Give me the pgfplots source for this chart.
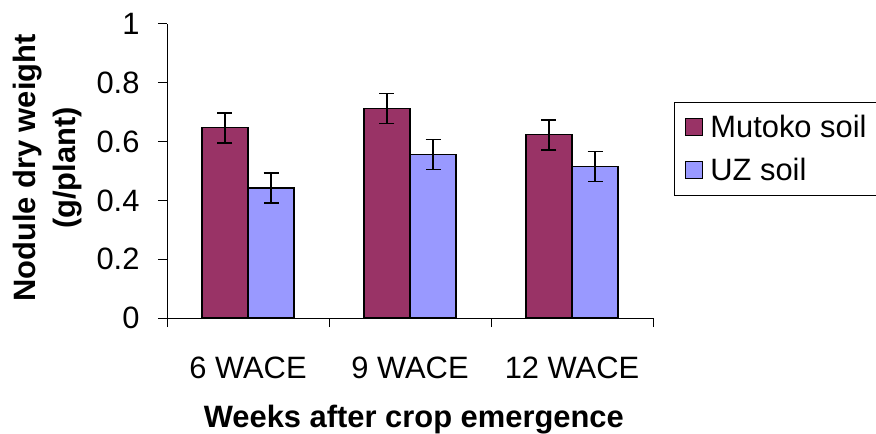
\documentclass[border=0pt]{standalone}
\usepackage{fontspec}
\setmainfont{Liberation Sans}
\usepackage{pgfplots}
\pgfplotsset{compat=1.18}
\definecolor{mutoko}{HTML}{993366}
\definecolor{uz}{HTML}{9999FF}
\begin{document}
\begin{tikzpicture}
\useasboundingbox (0,0) rectangle (876bp,434bp);
\begin{axis}[
  at={(167bp,116bp)}, anchor=south west,
  scale only axis, width=486bp, height=294bp,
  xmin=-0.5, xmax=2.5, ymin=0, ymax=1,
  axis x line*=bottom, axis y line*=left,
  axis line style={-, line width=1bp, black},
  ytick={0,0.2,0.4,0.6,0.8,1},
  yticklabels={0,0.2,0.4,0.6,0.8,1},
  xtick={-0.5,0.5,1.5,2.5}, xticklabels={},
  extra x ticks={0,1,2},
  extra x tick labels={6 WACE,9 WACE,12 WACE},
  extra x tick style={major tick length=0pt},
  tick align=outside, major tick length=9bp,
  tick style={black, line width=1bp},
  /pgf/number format/assume math mode=true,
  ticklabel style={font=\fontsize{31}{36}\selectfont},
  yticklabel style={xshift=-15bp},
  xticklabel style={yshift=-35bp},
  ylabel={Nodule dry weight\\(g/plant)},
  ylabel style={font=\bfseries\fontsize{31}{40}\selectfont, align=center,
    at={(rel axis cs:-0.245,0.51)}, anchor=center},
  xlabel={Weeks after crop emergence},
  xlabel style={font=\bfseries\fontsize{31}{38}\selectfont,
    at={(rel axis cs:0.508,-0.372)}, anchor=base},
  ybar=0pt, bar width=0.284,
  legend style={at={(1.043,0.735)}, anchor=north west, draw=black,
    line width=1bp, font=\fontsize{31}{36}\selectfont,
    inner xsep=11bp, inner ysep=11bp, row sep=15bp,
    nodes={inner xsep=7bp}},
  legend cell align=left,
  legend image code/.code={\draw[#1, line width=1bp] (0bp,-8.5bp) rectangle (17bp,8.5bp);},
]
\addplot[fill=mutoko, draw=black, line width=1.2bp,
  error bars/.cd, y dir=both, y explicit,
  error bar style={line width=1.6bp, black},
  error mark options={rotate=90, mark size=7.5bp, line width=1.6bp, black}]
  coordinates {(0,0.647) +- (0,0.051) (1,0.713) +- (0,0.051) (2,0.623) +- (0,0.051)};
\addlegendentry{Mutoko soil}
\addplot[fill=uz, draw=black, line width=1.2bp,
  error bars/.cd, y dir=both, y explicit,
  error bar style={line width=1.6bp, black},
  error mark options={rotate=90, mark size=7.5bp, line width=1.6bp, black}]
  coordinates {(0,0.442) +- (0,0.051) (1,0.556) +- (0,0.051) (2,0.515) +- (0,0.051)};
\addlegendentry{UZ soil}
\end{axis}
\end{tikzpicture}
\end{document}
